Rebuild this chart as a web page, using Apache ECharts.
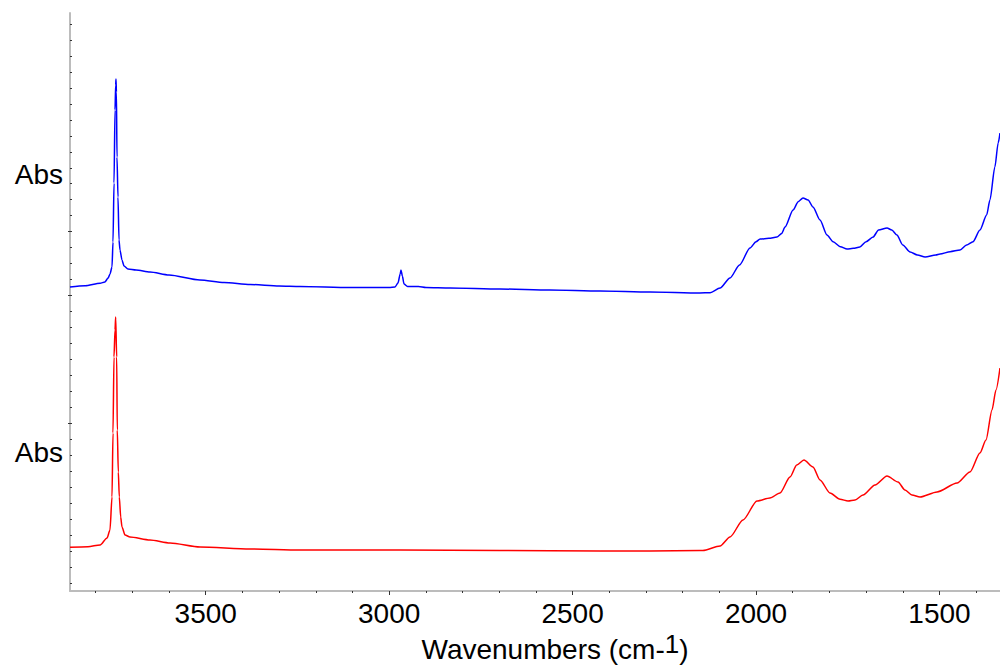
<!DOCTYPE html>
<html>
<head>
<meta charset="utf-8">
<script src="https://cdn.jsdelivr.net/npm/echarts@6/dist/echarts.min.js"></script>
<style>
html,body{margin:0;padding:0;background:#fff;}
#chart{width:1000px;height:666px;}
</style>
</head>
<body>
<div id="chart"></div>
<script>
// Upper spectrum (blue)
const blueWavenumber = [3870, 3829, 3788, 3775, 3766, 3761, 3755.5, 3752.8, 3750, 3747.3, 3745.5, 3744.6, 3743.5, 3741.9, 3739.2, 3736.4, 3733.7, 3728.3, 3722.8, 3712, 3690, 3652, 3600, 3516, 3450, 3379, 3300, 3243, 3107, 3000, 2984, 2976, 2970, 2967.8, 2964, 2959.6, 2950, 2920, 2900, 2834, 2698, 2562, 2425, 2289, 2153, 2125, 2098, 2071, 2045, 2016.5, 2000, 1989, 1965, 1943, 1930, 1921, 1899, 1885, 1872, 1858, 1844.7, 1825.6, 1806.6, 1790, 1770, 1752, 1735, 1717, 1700, 1681, 1666, 1643, 1630, 1616, 1600, 1580, 1560, 1539, 1510, 1498.5, 1471, 1444, 1426, 1408.6, 1389.6, 1371.4, 1362.4, 1349, 1340, 1335];
const blueAbs = [0.240, 0.2465, 0.2585, 0.265, 0.285, 0.305, 0.34, 0.465, 0.76, 1.125, 1.25, 1.28, 1.215, 0.89, 0.69, 0.475, 0.425, 0.375, 0.345, 0.33, 0.325, 0.315, 0.30, 0.275, 0.2625, 0.2525, 0.245, 0.2425, 0.2375, 0.2375, 0.24, 0.26, 0.305, 0.325, 0.295, 0.255, 0.2425, 0.2425, 0.2375, 0.235, 0.23, 0.225, 0.22, 0.215, 0.21, 0.2115, 0.235, 0.285, 0.35, 0.435, 0.4665, 0.48, 0.4835, 0.49, 0.508, 0.54, 0.625, 0.6665, 0.685, 0.675, 0.64, 0.575, 0.50, 0.4665, 0.4415, 0.43, 0.4335, 0.44, 0.4665, 0.49, 0.525, 0.535, 0.525, 0.50, 0.45, 0.415, 0.40, 0.39, 0.40, 0.405, 0.4165, 0.425, 0.45, 0.4665, 0.525, 0.60, 0.675, 0.84, 0.96, 1.01];

// Lower spectrum (red)
const redWavenumber = [3870, 3821, 3788, 3769, 3761, 3755.5, 3752.8, 3750.1, 3747.3, 3745.5, 3742.8, 3741.1, 3738.3, 3735.6, 3731.8, 3728.3, 3720, 3706.5, 3652, 3597.4, 3515.6, 3379.4, 3243, 2970, 2698, 2425, 2289, 2153, 2145, 2098, 2071, 2035.5, 1997.4, 1962, 1934.7, 1907.4, 1889, 1869.3, 1844.7, 1825.6, 1798.4, 1771, 1749.2, 1730, 1708.5, 1675.6, 1643, 1613, 1594, 1575, 1553, 1506.7, 1452, 1416.8, 1389.6, 1373.2, 1356.8, 1346, 1335];
const redAbs = [0.2185, 0.2215, 0.23, 0.265, 0.305, 0.47, 0.79, 1.17, 1.305, 1.37, 1.17, 0.805, 0.595, 0.47, 0.37, 0.32, 0.28, 0.27, 0.255, 0.24, 0.22, 0.21, 0.205, 0.205, 0.2025, 0.20, 0.20, 0.2025, 0.2025, 0.225, 0.27, 0.355, 0.45, 0.465, 0.49, 0.57, 0.63, 0.655, 0.62, 0.555, 0.49, 0.4585, 0.45, 0.455, 0.48, 0.53, 0.575, 0.545, 0.505, 0.48, 0.47, 0.495, 0.54, 0.595, 0.69, 0.755, 0.905, 1.005, 1.115];

// Axis text
const xTickLabels = [3500, 3000, 2500, 2000, 1500];
const xMinorTicks = [3800, 3700, 3600, 3400, 3300, 3200, 3100, 2900, 2800, 2700, 2600, 2400, 2300, 2200, 2100, 1900, 1800, 1700, 1600, 1400];
const xName = 'Wavenumbers (cm-{sup|1})';
const yName = 'Abs';

const X_MIN = 1335, X_MAX = 3870;

function zip(a, b) {
  const n = Math.min(a.length, b.length);
  const out = [];
  for (let i = 0; i < n; i++) out.push([a[i], b[i]]);
  return out;
}

// decorative frame ticks (index positions along the left axis)
const frameTicks = [];
for (let k = 0; k <= 35; k++) frameTicks.push(k);
const frameOuterTicks = [10, 18, 22];

const FONT = 'Liberation Sans, Arial, sans-serif';
const AXIS_GREY = '#bcbcbc';

const chart = echarts.init(document.getElementById('chart'), null, {renderer: 'svg'});

const hiddenX = (gi) => ({
  type: 'value', gridIndex: gi, min: X_MIN, max: X_MAX, inverse: true, show: false
});
const absAxis = (gi, max) => ({
  type: 'value', gridIndex: gi, min: 0, max: max,
  axisLine: {show: false}, axisTick: {show: false}, axisLabel: {show: false},
  splitLine: {show: false},
  name: yName, nameLocation: 'middle', nameRotate: 0, nameGap: 7,
  nameTextStyle: {fontFamily: FONT, fontSize: 28, color: '#000'}
});

chart.setOption({
  animation: false,
  backgroundColor: '#fff',
  grid: [
    {left: 70, right: 0, top: 13, height: 322},
    {left: 70, right: 0, top: 313, height: 278},
    {left: 70, right: 0, top: 13, height: 578}
  ],
  xAxis: [
    hiddenX(0),
    {
      type: 'value', gridIndex: 1, position: 'bottom', offset: 0,
      min: X_MIN, max: X_MAX, inverse: true,
      axisLine: {show: true, lineStyle: {color: AXIS_GREY, width: 2}},
      axisTick: {show: true, customValues: xTickLabels, length: 4, lineStyle: {color: '#333', width: 1}},
      axisLabel: {customValues: xTickLabels, margin: 8, fontFamily: FONT, fontSize: 28, color: '#000',
        formatter: (v) => String(v)},
      splitLine: {show: false},
      name: xName, nameLocation: 'middle', nameGap: 40,
      nameTextStyle: {
        fontFamily: FONT, fontSize: 28, color: '#000', padding: [0, 0, 0, 40],
        rich: {sup: {fontFamily: FONT, fontSize: 26, color: '#000', padding: [0, 0, 10, 0]}}
      }
    },
    {
      type: 'value', gridIndex: 1, position: 'bottom', offset: 0,
      min: X_MIN, max: X_MAX, inverse: true,
      axisLine: {show: false},
      axisTick: {show: true, customValues: xMinorTicks, length: 2, lineStyle: {color: '#333', width: 1}},
      axisLabel: {show: false},
      splitLine: {show: false}
    },
    hiddenX(2)
  ],
  yAxis: [
    absAxis(0, 1.61),
    absAxis(1, 1.39),
    {
      type: 'value', gridIndex: 2, position: 'left', offset: 0, min: -0.5, max: 35.69,
      axisLine: {show: true, lineStyle: {color: AXIS_GREY, width: 2}},
      axisTick: {show: true, inside: true, customValues: frameTicks, length: 2, lineStyle: {color: '#333', width: 1}},
      axisLabel: {show: false},
      splitLine: {show: false}
    },
    {
      type: 'value', gridIndex: 2, position: 'left', offset: 0, min: -0.5, max: 35.69,
      axisLine: {show: false},
      axisTick: {show: true, inside: false, customValues: frameOuterTicks, length: 2, lineStyle: {color: '#333', width: 1}},
      axisLabel: {show: false},
      splitLine: {show: false}
    }
  ],
  series: [
    {
      type: 'line', xAxisIndex: 0, yAxisIndex: 0,
      data: zip(blueWavenumber, blueAbs),
      showSymbol: false, smooth: 0.25, smoothMonotone: 'x',
      lineStyle: {color: '#0000ff', width: 1.5}
    },
    {
      type: 'line', xAxisIndex: 1, yAxisIndex: 1,
      data: zip(redWavenumber, redAbs),
      showSymbol: false, smooth: 0.25, smoothMonotone: 'x',
      lineStyle: {color: '#ff0000', width: 1.5}
    }
  ]
});
</script>
</body>
</html>
